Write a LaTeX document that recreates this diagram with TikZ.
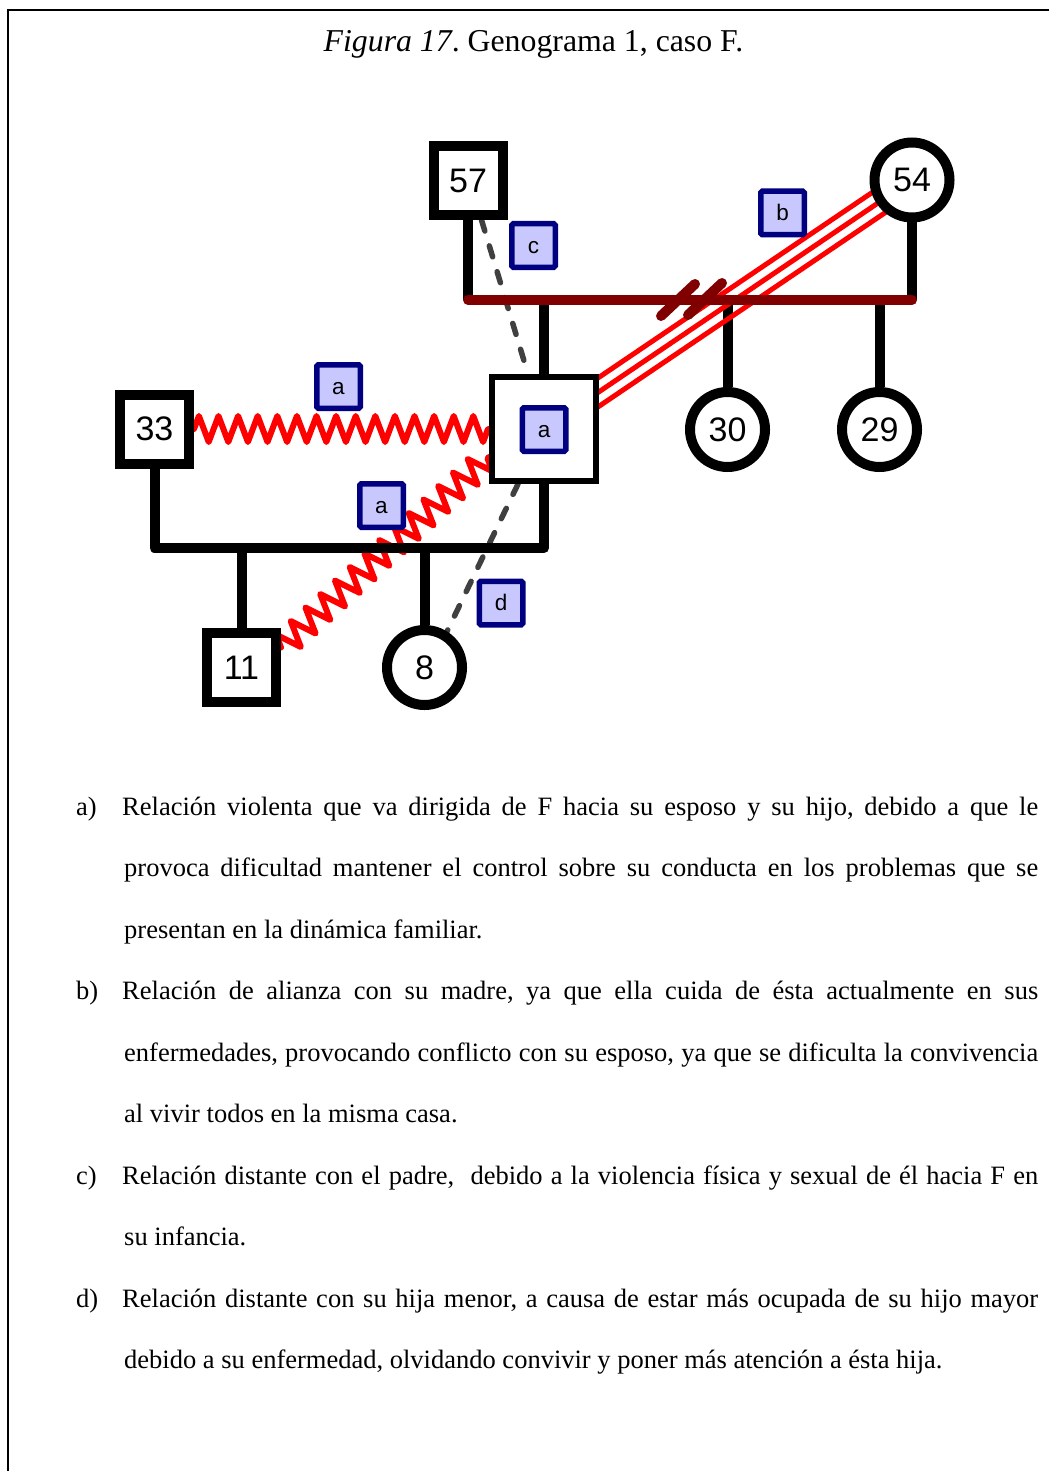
\documentclass[tikz,border=0pt]{standalone}
\usepackage{fontspec}
\setmainfont{Liberation Serif}
\newfontfamily\arialfont{Liberation Sans}
\usetikzlibrary{decorations.pathmorphing,calc}
\definecolor{relred}{RGB}{255,0,0}
\definecolor{wedline}{RGB}{128,0,0}
\definecolor{distgray}{RGB}{64,64,64}
\definecolor{tagborder}{RGB}{0,0,128}
\definecolor{tagfill}{RGB}{200,200,255}
\pgfdeclarelayer{kids}
\pgfdeclarelayer{rel}
\pgfdeclarelayer{bars}
\pgfsetlayers{kids,rel,bars,main}
\frenchspacing

\begin{document}
\begin{tikzpicture}[x=1pt,y=-1pt,
  male/.style={draw, fill=white, line width=10pt, minimum size=69pt, inner sep=0pt,
    font=\arialfont\fontsize{34}{34}\selectfont},
  female/.style={circle, draw, fill=white, line width=10pt, minimum size=75pt, inner sep=0pt,
    font=\arialfont\fontsize{34}{34}\selectfont},
  index/.style={draw, fill=white, line width=6pt, minimum size=104pt, inner sep=0pt},
  tag/.style={draw=tagborder, fill=tagfill, line width=5.5pt, minimum size=43.5pt,
    inner sep=0pt, rounded corners=1.5pt, text height=15.8pt, text depth=0pt,
    font=\arialfont\fontsize{22.5}{22.5}\selectfont},
  famline/.style={line width=10pt, line join=round},
  wedding/.style={line width=10pt, wedline, line cap=round},
  violent/.style={relred, line width=6pt, line join=round, line cap=round, decorate,
    decoration={zigzag, segment length=#1, amplitude=13pt}},
  violent/.default=19.5pt,
  alliance/.style={relred, line width=5pt},
  distant/.style={distgray, line width=5.5pt, line cap=round, dash pattern=on 11.5pt off 15.5pt},
  bodytext/.style={anchor=base west, inner sep=0pt, font=\fontsize{26.5}{30}\selectfont},
]
\useasboundingbox (0,0) rectangle (1049,1471);

% page frame
\draw[line width=2pt] (1049,10) -- (8,10) -- (8,1471);

% caption
\node[anchor=base, inner sep=0pt, font=\fontsize{31.8}{36}\selectfont] (title) at (533.5,52)
  {\textit{Figura 17}. Genograma 1, caso F.};

% persons
\node[male]   (m57) at (468,180.5) {57};
\node[female] (f54) at (912,180) {54};
\node[male]   (m33) at (154.5,429) {33};
\node[index]  (F)   at (544,429) {};
\node[female] (f30) at (727.5,429.5) {30};
\node[female] (f29) at (879.5,429.5) {29};
\node[male]   (m11) at (241.5,667.5) {11};
\node[female] (f8)  at (424.5,667.5) {8};

% marriage bars
\coordinate (pL) at (468,300);
\coordinate (pR) at (912,300);
\coordinate (bar) at (0,548);
\coordinate (s1) at (678,300);
\coordinate (s2) at (705,299);

% children hanging from the bars
\begin{pgfonlayer}{kids}
  \draw[famline] (F.north) -- (F.north |- pL);
  \draw[famline] (f30.north) -- (f30.north |- pL);
  \draw[famline] (f29.north) -- (f29.north |- pL);
  \draw[famline] (m11.north) -- (m11.north |- bar);
  \draw[famline] (f8.north) -- (f8.north |- bar);
\end{pgfonlayer}

% emotional relationships
\begin{pgfonlayer}{rel}
  \draw[violent=19.6pt] (m33.east) -- (F.west);
  \draw[violent=20pt] ([yshift=20pt]m11.east) -- ([yshift=-28pt]F.west);
  \draw[alliance] (F.center) -- (f54.center);
  \draw[alliance] ($(F.center)!12pt!90:(f54.center)$) -- ($(f54.center)!12pt!-90:(F.center)$);
  \draw[alliance] ($(F.center)!12pt!-90:(f54.center)$) -- ($(f54.center)!12pt!90:(F.center)$);
  \draw[distant] ([xshift=13.5pt]m57.south) -- ([xshift=-16pt]F.north);
  \draw[distant] ([xshift=-26pt]F.south) -- (f8.58);
\end{pgfonlayer}

\begin{pgfonlayer}{bars}
  \draw[famline] (m57.south) -- (pL);
  \draw[famline] (f54.south) -- (pR);
  \draw[wedding] (pL) -- (pR);
  \draw[wedding] ($(s1)+(-17,16)$) -- ($(s1)+(17,-16)$);
  \draw[wedding] ($(s2)+(-17,16)$) -- ($(s2)+(17,-16)$);
  \draw[famline] (m33.south) -- (m33.south |- bar) -- (F.south |- bar) -- (F.south);
\end{pgfonlayer}

% relationship keys
\node[tag] (ta1) at (338.5,386.5) {a};
\node[tag] (ta2) at (544,429.5) {a};
\node[tag] (ta3) at (381.5,505.5) {a};
\node[tag] (tb)  at (782.5,213) {b};
\node[tag] (tc)  at (533.5,245.5) {c};
\node[tag] (td)  at (501,603) {d};

% legend
\node[bodytext] (ia) at (76,815) {a)};
\node[bodytext] (la1) at (122,815) {\makebox[916pt][s]{Relación violenta que va dirigida de F hacia su esposo y su hijo, debido a que le}};
\node[bodytext] (la2) at (124,876.5) {\makebox[914pt][s]{provoca dificultad mantener el control sobre su conducta en los problemas que se}};
\node[bodytext] (la3) at (124,938) {presentan en la dinámica familiar.};
\node[bodytext] (ib) at (76,999.5) {b)};
\node[bodytext] (lb1) at (122,999.5) {\makebox[916pt][s]{Relación de alianza con su madre, ya que ella cuida de ésta actualmente en sus}};
\node[bodytext] (lb2) at (124,1061) {\makebox[914pt][s]{enfermedades, provocando conflicto con su esposo, ya que se dificulta la convivencia}};
\node[bodytext] (lb3) at (124,1122.5) {al vivir todos en la misma casa.};
\node[bodytext] (ic) at (76,1184) {c)};
\node[bodytext] (lc1) at (122,1184) {\makebox[916pt][s]{Relación distante con el padre, \ debido a la violencia física y sexual de él hacia F en}};
\node[bodytext] (lc2) at (124,1245.5) {su infancia.};
\node[bodytext] (id) at (76,1307) {d)};
\node[bodytext] (ld1) at (122,1307) {\makebox[916pt][s]{Relación distante con su hija menor, a causa de estar más ocupada de su hijo mayor}};
\node[bodytext] (ld2) at (124,1368.5) {debido a su enfermedad, olvidando convivir y poner más atención a ésta hija.};
\end{tikzpicture}
\end{document}
